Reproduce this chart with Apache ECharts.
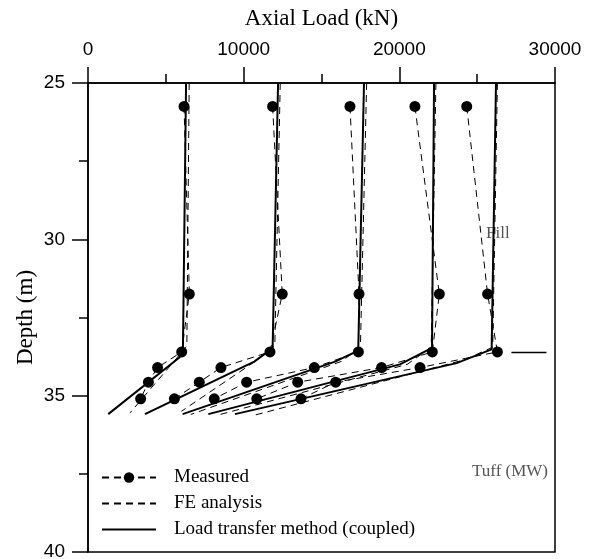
<!DOCTYPE html>
<html>
<head>
<meta charset="utf-8">
<script src="https://cdn.jsdelivr.net/npm/echarts@6/dist/echarts.min.js"></script>
<style>
  html, body { margin: 0; padding: 0; background: #fff; }
  #chart { width: 597px; height: 559px; }
</style>
</head>
<body>
<div id="chart"></div>
<script>
// measured points: same depths for every load step
const measuredDepth = [25.75, 31.75, 33.6, 34.1, 34.57, 35.1]
const measuredLoad = [
  [6170, 6510, 6020, 4470, 3880, 3380],
  [11860, 12480, 11690, 8540, 7150, 5550],
  [16830, 17410, 17370, 14540, 10190, 8110],
  [21000, 22570, 22120, 18860, 13470, 10840],
  [24330, 25670, 26300, 21330, 15910, 13680]
]

// FE analysis
const feDepth = [
  [25, 33.4, 33.8, 35.55],
  [25, 33.4, 33.85, 35.5],
  [25, 33.45, 33.9, 35.6],
  [25, 33.45, 34.0, 35.6],
  [25, 33.45, 33.85, 35.65]
]
const feLoad = [
  [6500, 6350, 5700, 2700],
  [12350, 12000, 10900, 6000],
  [17900, 17500, 16300, 6600],
  [22350, 22050, 20500, 8500],
  [26300, 26000, 24200, 10500]
]

// load transfer method (coupled)
const ltmDepth = [
  [25, 33.47, 33.77, 35.59],
  [25, 33.48, 33.91, 35.59],
  [25, 33.56, 33.91, 35.59],
  [25, 33.47, 34.0, 35.59],
  [25, 33.52, 33.96, 35.59]
]
const ltmLoad = [
  [6300, 6100, 5890, 1300],
  [12210, 11860, 10680, 3660],
  [17730, 17360, 15870, 6080],
  [22230, 22100, 20040, 7730],
  [26210, 25930, 23680, 9440]
]

// layer boundary mark at right
const boundaryLoad = [27200, 29450]
const boundaryDepth = [33.62, 33.62]

const pairs = (xs, ys) => xs.map((x, i) => [x, ys[i]])

let series = []
measuredLoad.forEach(function (row) {
  series.push({
    name: 'Measured',
    type: 'line',
    data: pairs(row, measuredDepth),
    symbol: 'circle',
    symbolSize: 11,
    itemStyle: { color: '#000' },
    lineStyle: { color: '#000', width: 1, type: [7, 5] },
    z: 5
  })
})
feLoad.forEach(function (row, i) {
  series.push({
    name: 'FE analysis',
    type: 'line',
    data: pairs(row, feDepth[i]),
    symbol: 'none',
    itemStyle: { color: '#000' },
    lineStyle: { color: '#000', width: 1, type: [7, 5] }
  })
})
ltmLoad.forEach(function (row, i) {
  series.push({
    name: 'Load transfer method (coupled)',
    type: 'line',
    data: pairs(row, ltmDepth[i]),
    symbol: 'none',
    itemStyle: { color: '#000' },
    lineStyle: { color: '#000', width: 2 },
    z: 4
  })
})
series.push({
  name: 'boundary',
  type: 'line',
  data: pairs(boundaryLoad, boundaryDepth),
  symbol: 'none',
  lineStyle: { color: '#000', width: 1.5 }
})

// legend line icons should not get a dot
const noDot = { opacity: 0, color: 'rgba(0,0,0,0)', borderWidth: 0 }

let myChart = echarts.init(document.getElementById('chart'))
myChart.setOption({
  backgroundColor: '#fff',
  animation: false,
  grid: {
    left: 88, right: 42, top: 83, bottom: 7,
    outerBoundsMode: 'none',
    show: true, borderColor: '#000', borderWidth: 1.5
  },
  legend: {
    data: [
      { name: 'Measured' },
      { name: 'FE analysis', itemStyle: noDot },
      { name: 'Load transfer method (coupled)', itemStyle: noDot }
    ],
    orient: 'vertical',
    left: 101,
    top: 468,
    padding: 0,
    itemWidth: 54,
    itemHeight: 13,
    itemGap: 7,
    textStyle: {
      fontFamily: 'Liberation Serif', fontSize: 19, color: '#000',
      padding: [0, 0, 0, 13]
    }
  },
  xAxis: {
    type: 'value',
    position: 'top',
    min: 0,
    max: 30000,
    interval: 10000,
    name: 'Axial Load (kN)',
    nameLocation: 'middle',
    nameGap: 53,
    nameMoveOverlap: false,
    nameTextStyle: { fontFamily: 'Liberation Serif', fontSize: 23, color: '#000' },
    axisLine: { lineStyle: { color: '#000', width: 1.5 } },
    axisTick: { length: 16, lineStyle: { color: '#000', width: 1.5 } },
    minorTick: { show: true, splitNumber: 2, length: 9, lineStyle: { color: '#000', width: 1.5 } },
    axisLabel: {
      margin: 24, fontFamily: 'Liberation Sans', fontSize: 19, color: '#000',
      formatter: v => String(v)
    },
    splitLine: { show: false }
  },
  yAxis: {
    type: 'value',
    inverse: true,
    min: 25,
    max: 40,
    interval: 5,
    name: 'Depth (m)',
    nameLocation: 'middle',
    nameGap: 51,
    nameMoveOverlap: false,
    nameRotate: 90,
    nameTextStyle: { fontFamily: 'Liberation Serif', fontSize: 23, color: '#000' },
    axisLine: { lineStyle: { color: '#000', width: 1.5 } },
    axisTick: { length: 16, lineStyle: { color: '#000', width: 1.5 } },
    minorTick: { show: true, splitNumber: 2, length: 9, lineStyle: { color: '#000', width: 1.5 } },
    axisLabel: {
      margin: 23, fontFamily: 'Liberation Sans', fontSize: 19, color: '#000',
      formatter: v => String(v)
    },
    splitLine: { show: false }
  },
  graphic: [
    {
      type: 'text', left: 486, top: 225,
      style: { text: 'Fill', font: '17px "Liberation Serif"', fill: '#555' }
    },
    {
      type: 'text', left: 472, top: 463,
      style: { text: 'Tuff (MW)', font: '17px "Liberation Serif"', fill: '#555' }
    }
  ],
  series: series
})
</script>
</body>
</html>
